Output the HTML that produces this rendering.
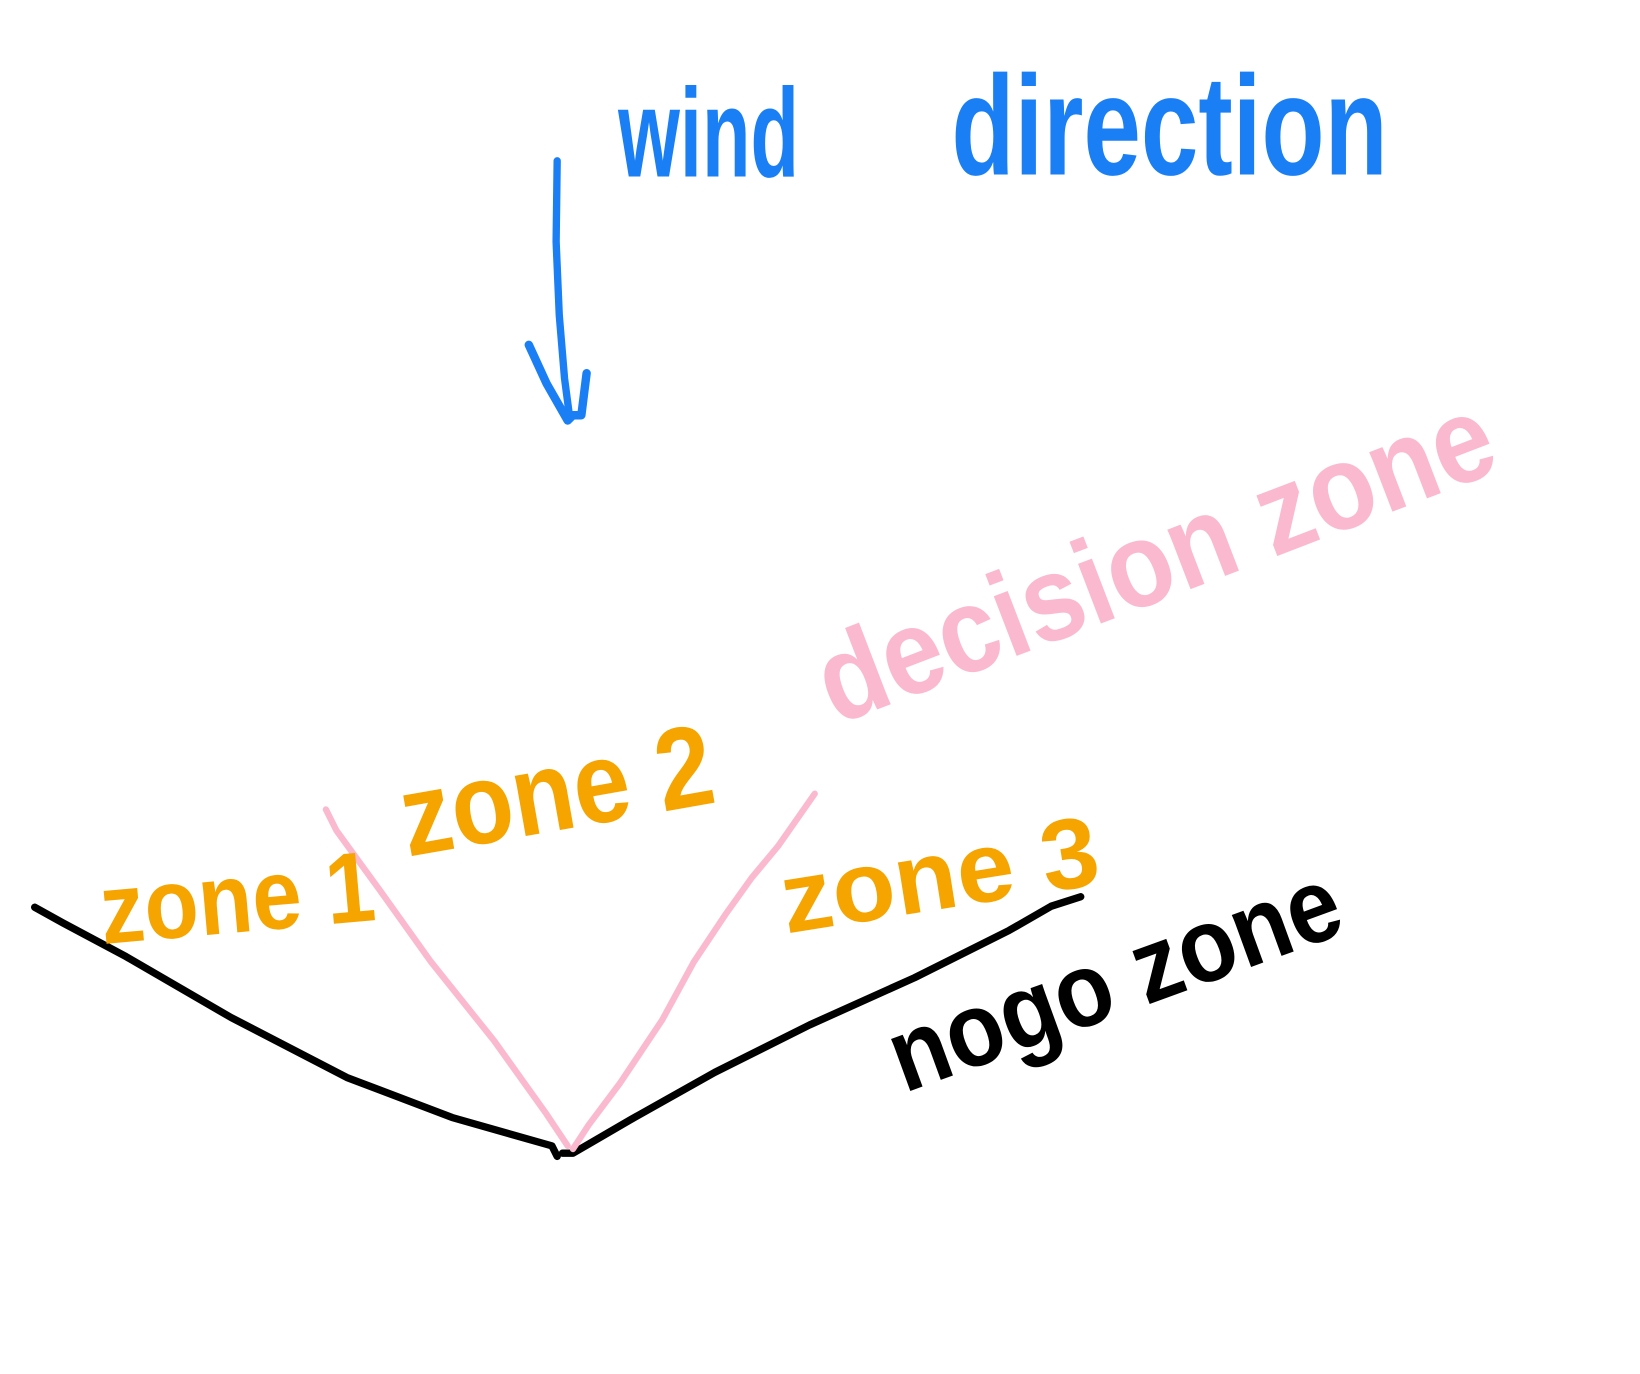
<!DOCTYPE html>
<html><head><meta charset="utf-8"><style>
html,body{margin:0;padding:0;background:#fff;width:1640px;height:1374px;overflow:hidden}
svg{display:block}
text{font-family:"Liberation Sans",sans-serif;font-weight:bold}
</style></head><body>
<svg width="1640" height="1374" viewBox="0 0 1560 1307" preserveAspectRatio="none" xmlns="http://www.w3.org/2000/svg">
<g fill="none" stroke-linecap="round" stroke-linejoin="round">
  <polyline stroke="#1a7ff5" stroke-width="7" points="530,153 529,230 532,300 537,360 542,398"/>
  <polyline stroke="#1a7ff5" stroke-width="8" points="503,328 520,365 540,400 545,395 553,395 558,355"/>
  <polyline stroke="#000" stroke-width="7" points="33,863 60,878 120,910 220,968 330,1025 430,1063 525,1090 530,1100"/>
  <polyline stroke="#000" stroke-width="7" points="535,1097 545,1097 600,1065 680,1020 770,975 870,930 960,885 1000,862 1028,853"/>
  <polyline stroke="#fbb9cf" stroke-width="6" points="310,770 320,790 360,845 410,915 470,990 520,1060 540,1090"/>
  <polyline stroke="#fbb9cf" stroke-width="6" points="775,755 740,805 715,835 690,870 660,915 630,970 590,1030 560,1070 545,1093"/>
</g>
<text x="588" y="168" font-size="120" fill="#1a7ff5" textLength="172" lengthAdjust="spacingAndGlyphs">wind</text>
<text x="905" y="166" font-size="135" fill="#1a7ff5" textLength="415" lengthAdjust="spacingAndGlyphs">direction</text>
<text x="795" y="690" font-size="115" fill="#fbb9cf" textLength="680" lengthAdjust="spacingAndGlyphs" transform="rotate(-21 795 690)">decision zone</text>
<text x="98" y="898" font-size="95" fill="#f5a400" textLength="262" lengthAdjust="spacingAndGlyphs" transform="rotate(-5 98 898)">zone 1</text>
<text x="388" y="815" font-size="110" fill="#f5a400" textLength="300" lengthAdjust="spacingAndGlyphs" transform="rotate(-10 388 815)">zone 2</text>
<text x="748" y="888" font-size="95" fill="#f5a400" textLength="305" lengthAdjust="spacingAndGlyphs" transform="rotate(-9 748 888)">zone 3</text>
<text x="860" y="1040" font-size="100" fill="#000" textLength="450" lengthAdjust="spacingAndGlyphs" transform="rotate(-20 860 1040)">nogo zone</text>
</svg>
</body></html>
